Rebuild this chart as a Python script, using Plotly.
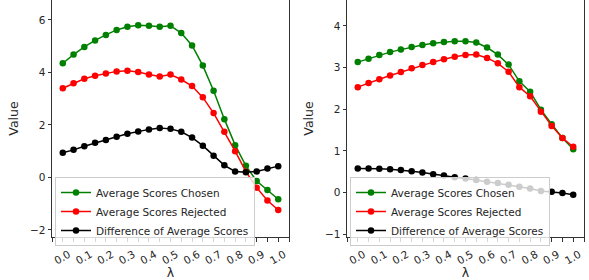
import plotly.graph_objects as go

lam = [round(i * 0.05, 2) for i in range(21)]
tick_vals = [round(i * 0.1, 1) for i in range(11)]
tick_text = [f"{v:.1f}" for v in tick_vals]

left_chosen = [4.35, 4.68, 4.97, 5.22, 5.43, 5.62, 5.74, 5.80, 5.78, 5.74, 5.78,
               5.50, 5.03, 4.26, 3.30, 2.22, 1.23, 0.44, -0.14, -0.48, -0.83]
left_rejected = [3.40, 3.59, 3.76, 3.87, 3.96, 4.04, 4.06, 4.02, 3.92, 3.85, 3.92,
                 3.73, 3.48, 3.05, 2.45, 1.74, 1.00, 0.22, -0.39, -0.88, -1.24]
left_diff = [0.94, 1.05, 1.19, 1.32, 1.43, 1.55, 1.66, 1.75, 1.83, 1.88, 1.85,
             1.74, 1.52, 1.21, 0.83, 0.46, 0.23, 0.20, 0.23, 0.34, 0.43]

right_chosen = [3.13, 3.21, 3.30, 3.37, 3.43, 3.49, 3.54, 3.58, 3.61, 3.63, 3.63,
                3.60, 3.48, 3.31, 3.07, 2.67, 2.42, 1.99, 1.64, 1.31, 1.04]
right_rejected = [2.53, 2.63, 2.72, 2.81, 2.89, 2.98, 3.06, 3.13, 3.20, 3.26, 3.30,
                  3.31, 3.23, 3.10, 2.90, 2.53, 2.31, 1.94, 1.60, 1.31, 1.10]
right_diff = [0.58, 0.58, 0.57, 0.56, 0.54, 0.51, 0.48, 0.44, 0.41, 0.37, 0.34,
              0.30, 0.26, 0.23, 0.19, 0.14, 0.10, 0.04, 0.02, -0.01, -0.05]

names = ["Average Scores Chosen", "Average Scores Rejected", "Difference of Average Scores"]
colors = ["green", "red", "black"]

fig = go.Figure()
for ys, nm, c in zip([left_chosen, left_rejected, left_diff], names, colors):
    fig.add_trace(go.Scatter(x=lam, y=ys, name=nm, mode="lines+markers",
                             line=dict(color=c, width=1.5),
                             marker=dict(color=c, size=6.5),
                             xaxis="x", yaxis="y", legend="legend"))
for ys, nm, c in zip([right_chosen, right_rejected, right_diff], names, colors):
    fig.add_trace(go.Scatter(x=lam, y=ys, name=nm, mode="lines+markers",
                             line=dict(color=c, width=1.5),
                             marker=dict(color=c, size=6.5),
                             xaxis="x2", yaxis="y2", legend="legend2"))

W, H = 589, 280
B = 43
PH = H - B
TXT = "#262626"
FS = 10.5

axis_common = dict(showline=True, linecolor="#333", linewidth=1, mirror=True,
                   ticks="outside", ticklen=3.5, tickcolor="#333", showgrid=False,
                   zeroline=False, automargin=False,
                   tickfont=dict(size=FS, color=TXT))

xcommon = dict(axis_common, range=[-0.05, 1.05], tickvals=tick_vals, ticktext=tick_text,
               tickangle=-30, ticklabelshift=6, ticklabelstandoff=3,
               minor=dict(dtick=0.05, tick0=0, ticks="outside", ticklen=3.5,
                          tickcolor="#333", showgrid=False),
               title=dict(text="λ", font=dict(size=12.5, color=TXT), standoff=4))
fig.update_layout(
    template="none",
    width=W, height=H,
    margin=dict(l=0, r=0, t=0, b=B, pad=0),
    paper_bgcolor="white", plot_bgcolor="white",
    font=dict(family="DejaVu Sans", color=TXT),
    showlegend=True,
    xaxis=dict(xcommon, domain=[52 / W, 289 / W], anchor="y"),
    xaxis2=dict(xcommon, domain=[347 / W, 584 / W], anchor="y2"),
    yaxis=dict(axis_common, domain=[0, 1], anchor="x", range=[-2.27, 6.76],
               tickvals=[-2, 0, 2, 4, 6], ticktext=["−2", "0", "2", "4", "6"],
               title=dict(text="Value", font=dict(size=12.5, color=TXT), standoff=8)),
    yaxis2=dict(axis_common, domain=[0, 1], anchor="x2", range=[-1.065, 4.62],
                tickvals=[-1, 0, 1, 2, 3, 4], ticktext=["−1", "0", "1", "2", "3", "4"],
                title=dict(text="Value", font=dict(size=12.5, color=TXT), standoff=8)),
    legend=dict(x=55 / W, y=1 - 177 / PH, xanchor="left", yanchor="top",
                bgcolor="rgba(255,255,255,0.8)", bordercolor="#ccc", borderwidth=1,
                font=dict(size=FS, color=TXT), tracegroupgap=0, itemwidth=30),
    legend2=dict(x=350 / W, y=1 - 177 / PH, xanchor="left", yanchor="top",
                 bgcolor="rgba(255,255,255,0.8)", bordercolor="#ccc", borderwidth=1,
                 font=dict(size=FS, color=TXT), tracegroupgap=0, itemwidth=30),
)

fig.write_html("out.html", config={"displayModeBar": False},
               post_script="document.body.style.margin='0';")
